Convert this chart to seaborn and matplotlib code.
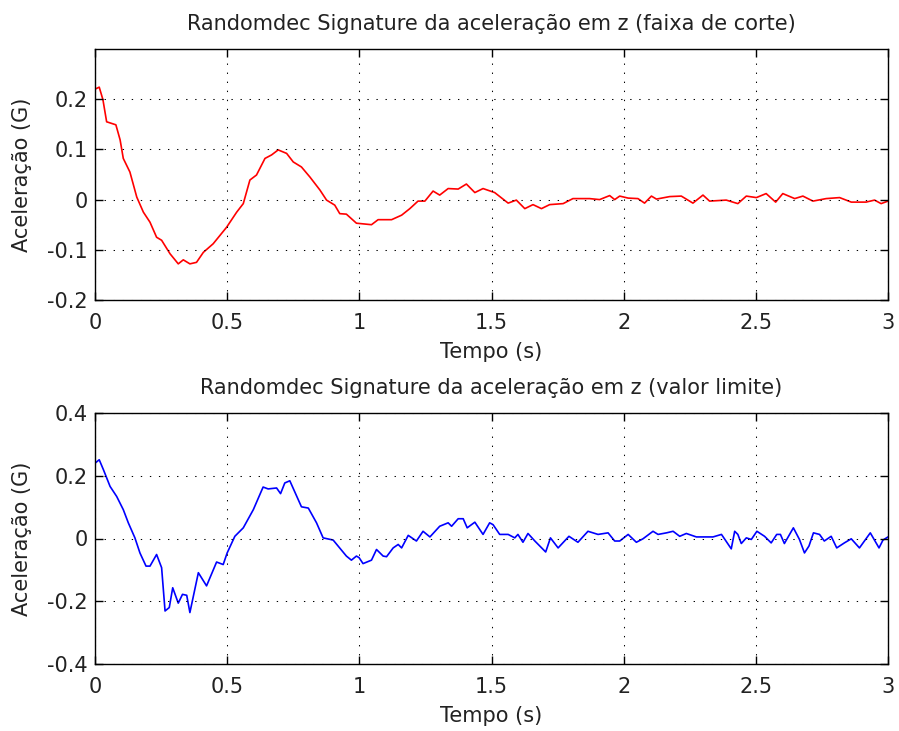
import matplotlib
matplotlib.use("Agg")
import matplotlib.pyplot as plt
import seaborn as sns
import pandas as pd

# ---- data ----
t_faixa = [0.0, 0.016, 0.03, 0.044, 0.079, 0.095, 0.107, 0.132, 0.158, 0.183, 0.208, 0.233, 0.252,
           0.284, 0.315, 0.334, 0.359, 0.384, 0.41, 0.447, 0.498, 0.536, 0.561, 0.586, 0.611,
           0.643, 0.668, 0.693, 0.725, 0.75, 0.781, 0.813, 0.851, 0.876, 0.907, 0.926, 0.951,
           0.989, 1.046, 1.071, 1.122, 1.16, 1.191, 1.222, 1.248, 1.279, 1.304, 1.336, 1.374,
           1.405, 1.437, 1.468, 1.512, 1.563, 1.594, 1.626, 1.657, 1.689, 1.72, 1.771, 1.808,
           1.871, 1.909, 1.947, 1.966, 1.985, 2.017, 2.054, 2.079, 2.105, 2.124, 2.174, 2.218,
           2.262, 2.3, 2.325, 2.388, 2.432, 2.464, 2.502, 2.539, 2.575, 2.602, 2.647, 2.678,
           2.716, 2.766, 2.817, 2.861, 2.917, 2.949, 2.974, 3.0]
a_faixa = [0.22, 0.224, 0.199, 0.155, 0.149, 0.119, 0.082, 0.055, 0.005, -0.025, -0.045, -0.075, -0.081,
           -0.108, -0.128, -0.12, -0.128, -0.125, -0.105, -0.088, -0.055, -0.025, -0.008, 0.039, 0.049,
           0.082, 0.089, 0.099, 0.092, 0.075, 0.065, 0.045, 0.019, -0.001, -0.011, -0.028, -0.029,
           -0.047, -0.05, -0.04, -0.04, -0.031, -0.018, -0.003, -0.003, 0.017, 0.009, 0.022, 0.021,
           0.031, 0.014, 0.022, 0.014, -0.007, -0.001, -0.018, -0.01, -0.018, -0.01, -0.008, 0.002,
           0.002, 0.0, 0.008, 0.0, 0.007, 0.003, 0.002, -0.007, 0.007, 0.001, 0.006, 0.007,
           -0.007, 0.009, -0.003, -0.001, -0.008, 0.007, 0.004, 0.012, -0.005, 0.012, 0.002, 0.007,
           -0.003, 0.002, 0.004, -0.005, -0.005, -0.001, -0.008, -0.003]

t_limite = [0.0, 0.016, 0.032, 0.057, 0.082, 0.107, 0.126, 0.151, 0.17, 0.193, 0.208, 0.233, 0.252,
            0.265, 0.281, 0.294, 0.315, 0.331, 0.347, 0.359, 0.391, 0.422, 0.46, 0.485, 0.5,
            0.529, 0.561, 0.599, 0.636, 0.655, 0.687, 0.702, 0.718, 0.737, 0.781, 0.807, 0.838,
            0.863, 0.901, 0.951, 0.97, 0.989, 0.999, 1.014, 1.046, 1.065, 1.09, 1.103, 1.128,
            1.147, 1.16, 1.185, 1.216, 1.241, 1.267, 1.304, 1.336, 1.349, 1.374, 1.393, 1.408,
            1.437, 1.468, 1.493, 1.506, 1.531, 1.563, 1.588, 1.6, 1.619, 1.638, 1.664, 1.705,
            1.723, 1.752, 1.793, 1.827, 1.865, 1.903, 1.941, 1.966, 1.985, 2.017, 2.048, 2.073,
            2.111, 2.13, 2.162, 2.187, 2.212, 2.237, 2.275, 2.338, 2.37, 2.383, 2.407, 2.42,
            2.432, 2.445, 2.464, 2.483, 2.504, 2.533, 2.558, 2.579, 2.593, 2.608, 2.642, 2.665,
            2.684, 2.701, 2.718, 2.741, 2.759, 2.785, 2.806, 2.835, 2.861, 2.892, 2.933, 2.966,
            2.981, 3.0]
a_limite = [0.24, 0.251, 0.219, 0.166, 0.134, 0.092, 0.05, 0.002, -0.046, -0.088, -0.088, -0.051, -0.093,
            -0.231, -0.22, -0.157, -0.206, -0.178, -0.181, -0.236, -0.109, -0.151, -0.075, -0.083, -0.046,
            0.007, 0.034, 0.092, 0.164, 0.158, 0.161, 0.143, 0.177, 0.184, 0.101, 0.097, 0.05,
            0.002, -0.005, -0.056, -0.069, -0.056, -0.061, -0.08, -0.069, -0.035, -0.056, -0.058, -0.03,
            -0.019, -0.03, 0.01, -0.008, 0.023, 0.005, 0.039, 0.05, 0.039, 0.063, 0.063, 0.034,
            0.052, 0.013, 0.05, 0.044, 0.013, 0.013, 0.002, 0.013, -0.012, 0.016, -0.008, -0.043,
            0.002, -0.03, 0.007, -0.012, 0.023, 0.013, 0.018, -0.008, -0.008, 0.013, -0.012, -0.001,
            0.023, 0.013, 0.018, 0.023, 0.007, 0.016, 0.005, 0.005, 0.013, -0.003, -0.033, 0.023,
            0.013, -0.016, 0.002, -0.003, 0.023, 0.007, -0.014, 0.013, 0.013, -0.016, 0.034, -0.003,
            -0.046, -0.024, 0.018, 0.013, -0.008, 0.007, -0.03, -0.014, -0.001, -0.03, 0.018, -0.03,
            -0.005, 0.005]

x_ticks = [0, 0.5, 1, 1.5, 2, 2.5, 3]
x_ticklabels = ["0", "0.5", "1", "1.5", "2", "2.5", "3"]
y_ticks_top = [-0.2, -0.1, 0, 0.1, 0.2]
y_ticklabels_top = ["-0.2", "-0.1", "0", "0.1", "0.2"]
y_ticks_bot = [-0.4, -0.2, 0, 0.2, 0.4]
y_ticklabels_bot = ["-0.4", "-0.2", "0", "0.2", "0.4"]

title_top = "Randomdec Signature da aceleração em z (faixa de corte)"
title_bot = "Randomdec Signature da aceleração em z (valor limite)"
xlabel = "Tempo (s)"
ylabel = "Aceleração (G)"

sns.set_style("white")
plt.rcParams["font.family"] = ["DejaVu Sans"]
FS = 15
TXT = "#222222"

fig = plt.figure(figsize=(8.99, 7.31), dpi=100)
ax1 = fig.add_axes([95/899, 1 - 300/731, 793/899, 251/731])
ax2 = fig.add_axes([95/899, 1 - 664/731, 793/899, 251/731])

df1 = pd.DataFrame({"t": t_faixa, "a": a_faixa})
df2 = pd.DataFrame({"t": t_limite, "a": a_limite})

sns.lineplot(data=df1, x="t", y="a", ax=ax1, color="#ff0000", lw=1.2, estimator=None, sort=False)
sns.lineplot(data=df2, x="t", y="a", ax=ax2, color="#0000ff", lw=1.2, estimator=None, sort=False)

for ax, yt, ytl, ylim, title in [
    (ax1, y_ticks_top, y_ticklabels_top, (-0.2, 0.3), title_top),
    (ax2, y_ticks_bot, y_ticklabels_bot, (-0.4, 0.4), title_bot),
]:
    ax.set_xlim(0, 3)
    ax.set_ylim(*ylim)
    ax.set_xticks(x_ticks)
    ax.set_xticklabels(x_ticklabels, fontsize=FS, color=TXT)
    ax.set_yticks(yt)
    ax.set_yticklabels(ytl, fontsize=FS, color=TXT)
    ax.tick_params(direction="in", length=6, width=1.0, color="black",
                   top=True, right=True, bottom=True, left=True)
    ax.tick_params(axis="x", pad=9.5)
    ax.tick_params(axis="y", pad=5)
    ax.grid(True, color="black", linestyle=(0, (1.3, 7.4)), linewidth=0.75)
    for s in ax.spines.values():
        s.set_visible(True)
        s.set_color("black")
        s.set_linewidth(1.0)
    ax.set_xlabel(xlabel, fontsize=FS, labelpad=6, color=TXT)
    ax.set_ylabel(ylabel, fontsize=FS, labelpad=11, color=TXT)
    ax.set_title(title, fontsize=FS, pad=13.5, color=TXT)
    ax.set_axisbelow(False)

fig.savefig("out.png", dpi=100, facecolor="white")
